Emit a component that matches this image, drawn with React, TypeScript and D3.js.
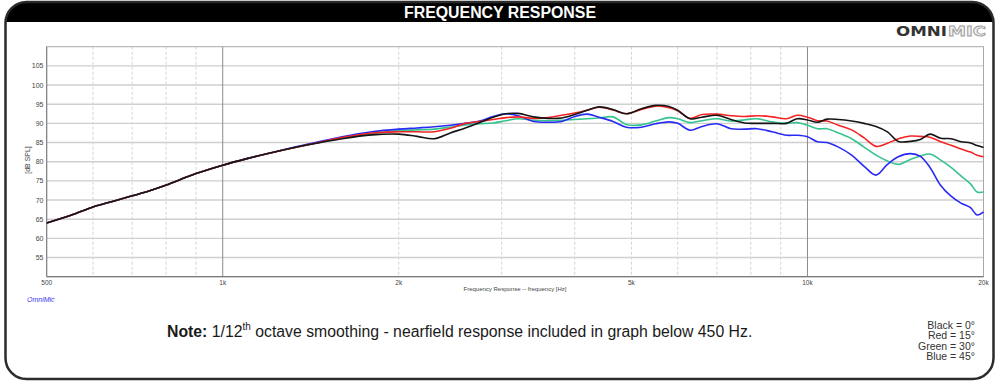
import React, { useEffect } from "react";
import * as d3 from "d3";

const freqs = [500, 550, 600, 650, 700, 750, 800, 900, 1000, 1100, 1200, 1400, 1600, 1800, 2000, 2150, 2300, 2450, 2600, 2750, 2900, 3050, 3200, 3400, 3600, 3800, 4000, 4200, 4400, 4650, 4900, 5200, 5500, 5800, 6000, 6300, 6600, 7000, 7400, 7800, 8200, 8700, 9200, 9600, 10000, 10400, 10800, 11300, 11900, 12500, 13100, 13700, 14300, 15000, 15600, 16200, 16900, 17600, 18300, 19000, 19500, 20000];

const black0 = [64, 66, 68.2, 69.7, 71.1, 72.4, 73.9, 76.9, 79.1, 80.8, 82.2, 84.4, 86.0, 87.0, 87.2, 86.6, 86.0, 87.5, 88.8, 90.2, 91.6, 92.5, 92.6, 91.7, 91.3, 91.4, 92.3, 93.4, 94.3, 93.6, 92.5, 93.8, 94.7, 94.4, 93.4, 91.2, 91.6, 92.1, 91.0, 90.1, 90.0, 90.0, 90.0, 91.2, 90.9, 90.3, 91.1, 91.0, 90.6, 90.0, 89.2, 87.8, 85.3, 85.3, 85.8, 87.2, 86.1, 86.0, 85.2, 84.9, 84.2, 83.7];

const red15 = [64, 66, 68.2, 69.7, 71.1, 72.4, 73.9, 76.9, 79.1, 80.8, 82.2, 84.4, 86.3, 87.5, 87.8, 87.8, 87.8, 88.7, 90.0, 90.5, 91.0, 91.5, 91.7, 91.3, 91.5, 92.1, 92.7, 93.4, 94.2, 93.5, 92.5, 93.6, 94.5, 94.1, 93.3, 91.3, 92.3, 92.4, 92.0, 91.8, 92.0, 91.7, 91.2, 92.1, 91.6, 90.7, 90.6, 89.5, 88.3, 86.2, 84.0, 84.8, 86.0, 86.7, 86.6, 86.4, 85.2, 84.3, 83.3, 82.5, 81.7, 81.3];

const green30 = [64, 66, 68.2, 69.7, 71.1, 72.4, 73.9, 76.9, 79.1, 80.8, 82.2, 84.4, 86.1, 87.3, 88.1, 88.3, 88.5, 89.0, 89.6, 89.9, 90.1, 90.7, 91.2, 90.8, 90.7, 90.8, 91.0, 91.2, 91.4, 91.7, 89.7, 89.6, 90.6, 91.5, 91.2, 90.2, 90.7, 91.2, 90.6, 90.9, 91.2, 90.4, 90.0, 90.2, 89.5, 88.6, 88.6, 87.5, 86.0, 83.8, 81.7, 80.2, 79.3, 80.6, 81.5, 82.0, 80.4, 78.5, 76.3, 74.2, 72.1, 72.1];

const blue45 = [64, 66, 68.2, 69.7, 71.1, 72.4, 73.9, 76.9, 79.1, 80.8, 82.2, 84.6, 86.5, 87.8, 88.5, 88.8, 89.1, 89.5, 90.0, 90.6, 91.8, 92.5, 92.0, 90.5, 90.3, 90.5, 91.8, 92.4, 91.6, 90.5, 89.0, 89.0, 89.9, 90.4, 90.0, 88.2, 89.2, 89.9, 88.6, 88.5, 88.6, 87.8, 86.9, 86.9, 86.5, 85.2, 85.0, 83.8, 81.7, 78.8, 76.5, 79.3, 81.3, 82.1, 81.4, 78.5, 73.8, 71.0, 69.2, 68.0, 66.1, 66.9];

const yTicks = [55, 60, 65, 70, 75, 80, 85, 90, 95, 100, 105];
const xTickValues = [500, 1000, 2000, 5000, 10000, 20000];
const xTickLabels = ["500", "1k", "2k", "5k", "10k", "20k"];
const minorFreqs = [600, 700, 800, 900, 2000, 3000, 4000, 5000, 6000, 7000, 8000, 9000];
const majorFreqs = [1000, 10000];
const legendLabels = ["Black = 0°", "Red = 15°", "Green = 30°", "Blue = 45°"];

const seriesList = [
  { name: "green", values: green30, color: "#35c48e" },
  { name: "blue", values: blue45, color: "#2a2af5" },
  { name: "red", values: red15, color: "#f42424" },
  { name: "black", values: black0, color: "#151515" },
];

const W = 1000;
const H = 384;
const PL = 46.7, PR = 983.5, PT = 46.7, PB = 276.7;

export default function App() {
  useEffect(() => {
    document.body.style.margin = "0";
  }, []);

  const x = d3.scaleLog().domain([500, 20000]).range([PL, PR]);
  const y = d3.scaleLinear().domain([50, 110]).range([PB, PT]);
  const line = d3
    .line<number>()
    .x((_, i) => x(freqs[i]))
    .y((v) => y(v))
    .curve(d3.curveCatmullRom.alpha(0.5));

  const font = "Liberation Sans, Arial, sans-serif";

  return (
    <svg width={W} height={H} viewBox={`0 0 ${W} ${H}`} style={{ display: "block" }}>
      <defs>
        <clipPath id="frameClip">
          <rect x={5.5} y={2} width={988} height={377} rx={21} ry={21} />
        </clipPath>
      </defs>
      <rect x={0} y={0} width={W} height={H} fill="#ffffff" />
      <rect x={5.5} y={2} width={988} height={377} rx={21} ry={21} fill="#ffffff" />
      <rect x={0} y={0} width={W} height={22} fill="#000000" clipPath="url(#frameClip)" />
      <rect x={5.5} y={2} width={988} height={377} rx={21} ry={21} fill="none" stroke="#2b2b2b" strokeWidth={2.5} />
      <text
        x={500}
        y={18}
        textAnchor="middle"
        fill="#ffffff"
        fontFamily="Liberation Sans Narrow, Arial Narrow, Liberation Sans, Arial, sans-serif"
        fontWeight="bold"
        fontSize={16}
        textLength={192}
        lengthAdjust="spacingAndGlyphs"
      >
        FREQUENCY RESPONSE
      </text>

      {/* OMNIMIC logo */}
      <text x={896} y={36} fontFamily="DejaVu Sans, Arial, sans-serif" fontWeight="bold" fontSize={14} fill="#333333" textLength={51} lengthAdjust="spacingAndGlyphs">
        OMNI
      </text>
      <text x={948} y={36} fontFamily="DejaVu Sans, Arial, sans-serif" fontWeight="bold" fontSize={14} fill="#f2f2f2" stroke="#9a9a9a" strokeWidth={0.8} textLength={38} lengthAdjust="spacingAndGlyphs">
        MIC
      </text>

      {/* grid */}
      {yTicks.map((t) => (
        <line key={"h" + t} x1={PL} x2={PR} y1={y(t)} y2={y(t)} stroke="#cfcfcf" strokeWidth={1.4} />
      ))}
      {minorFreqs.map((f) => (
        <line key={"m" + f} x1={x(f)} x2={x(f)} y1={PT} y2={PB} stroke="#d4d4d4" strokeWidth={1} strokeDasharray="3,2" />
      ))}
      {majorFreqs.map((f) => (
        <line key={"M" + f} x1={x(f)} x2={x(f)} y1={PT} y2={PB} stroke="#8c8c8c" strokeWidth={1} />
      ))}
      <rect x={PL} y={PT} width={PR - PL} height={PB - PT} fill="none" stroke="#a8a8a8" strokeWidth={1} />
      <line x1={PL} x2={PR} y1={PB} y2={PB} stroke="#7a7a7a" strokeWidth={1.2} />
      <line x1={PL} x2={PL} y1={PT} y2={PB} stroke="#7a7a7a" strokeWidth={1} />

      {/* y tick labels */}
      {yTicks.map((t) => (
        <text key={"yl" + t} x={43.5} y={y(t) + 2.5} textAnchor="end" fontFamily={font} fontSize={7} fill="#444">
          {t}
        </text>
      ))}
      <text
        transform={`translate(30,160) rotate(-90)`}
        textAnchor="middle"
        fontFamily={font}
        fontSize={7}
        fill="#444"
      >
        [dB SPL]
      </text>

      {/* x tick labels */}
      {xTickValues.map((f, i) => (
        <text key={"xl" + f} x={x(f)} y={284.5} textAnchor="middle" fontFamily={font} fontSize={6.5} fill="#444">
          {xTickLabels[i]}
        </text>
      ))}
      <text x={515} y={291} textAnchor="middle" fontFamily={font} fontSize={6} fill="#444">
        Frequency Response -- frequency [Hz]
      </text>
      <text x={27} y={302} fontFamily={font} fontSize={7} fontStyle="italic" fill="#3a3af0">
        OmniMic
      </text>

      {/* curves */}
      {seriesList.map((s) => (
        <path key={s.name} d={line(s.values) || ""} fill="none" stroke={s.color} strokeWidth={1.6} strokeLinejoin="round" />
      ))}

      {/* note */}
      <text x={167} y={337} fontFamily={font} fontSize={15.8} fill="#1a1a1a">
        <tspan fontWeight="bold">Note:</tspan>
        <tspan> 1/12</tspan>
        <tspan fontSize={10} dy={-7}>th</tspan>
        <tspan dy={7}> octave smoothing - nearfield response included in graph below 450 Hz.</tspan>
      </text>

      {/* legend */}
      {legendLabels.map((l, i) => (
        <text key={l} x={975} y={329 + i * 10.3} textAnchor="end" fontFamily={font} fontSize={10.5} fill="#333">
          {l}
        </text>
      ))}
    </svg>
  );
}
